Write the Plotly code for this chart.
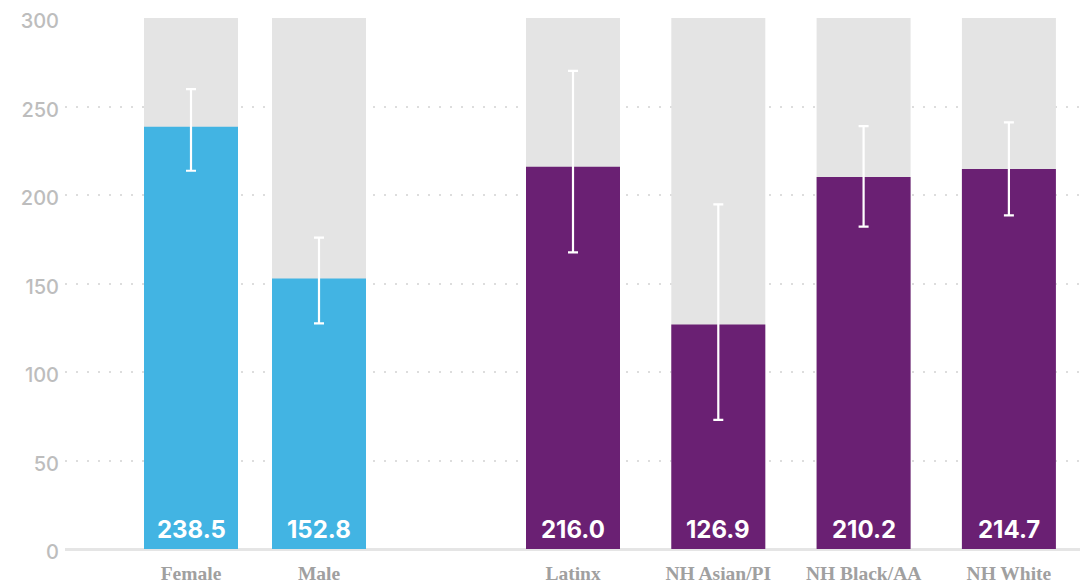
import plotly.graph_objects as go

# ---- data ----
sex_categories = ["Female", "Male"]
sex_values = [238.5, 152.8]
sex_ci_low = [213.7, 127.5]
sex_ci_high = [259.8, 175.9]

race_categories = ["Latinx", "NH Asian/PI", "NH Black/AA", "NH White"]
race_values = [216.0, 126.9, 210.2, 214.7]
race_ci_low = [167.6, 73.0, 182.1, 188.5]
race_ci_high = [270.1, 194.7, 238.9, 241.0]

y_max = 300
y_ticks = [0, 50, 100, 150, 200, 250, 300]

# ---- layout helpers (positions computed from index) ----
SEX_START, SEX_STEP = 126, 128
RACE_START, RACE_STEP = 508, 145.3
BAR_W = 94

sex_x = [SEX_START + i * SEX_STEP for i in range(len(sex_categories))]
race_x = [RACE_START + i * RACE_STEP for i in range(len(race_categories))]

BLUE = "#42b4e3"
PURPLE = "#6a2073"
GREY = "#e4e4e4"

fig = go.Figure()

all_x = sex_x + race_x
# background full-scale bars
fig.add_trace(go.Bar(
    x=all_x, y=[y_max] * len(all_x), width=BAR_W,
    marker=dict(color=GREY, line=dict(width=0)),
    hoverinfo="skip", showlegend=False,
))

def add_group(xs, vals, lo, hi, color):
    fig.add_trace(go.Bar(
        x=xs, y=vals, width=BAR_W,
        marker=dict(color=color, line=dict(width=0)),
        error_y=dict(
            type="data", symmetric=False,
            array=[h - v for h, v in zip(hi, vals)],
            arrayminus=[v - l for v, l in zip(vals, lo)],
            color="white", thickness=2.2, width=5,
        ),
        hoverinfo="skip", showlegend=False,
    ))
    for x, v in zip(xs, vals):
        fig.add_annotation(
            x=x, y=0, yanchor="bottom", xanchor="center",
            text=f"<b>{v:.1f}</b>", showarrow=False, yshift=3,
            font=dict(family="Inter, Lato, sans-serif", size=24, color="white"),
        )

add_group(sex_x, sex_values, sex_ci_low, sex_ci_high, BLUE)
add_group(race_x, race_values, race_ci_low, race_ci_high, PURPLE)

fig.update_layout(
    width=1088, height=583,
    margin=dict(l=57, r=15, t=10, b=42, autoexpand=False),
    paper_bgcolor="white", plot_bgcolor="white",
    barmode="overlay",
    xaxis=dict(
        range=[0, 1016],
        tickmode="array",
        tickvals=all_x,
        ticktext=sex_categories + race_categories,
        tickfont=dict(family="Liberation Serif, serif", size=19.5, color="#a0a0a0", weight="bold"),
        showgrid=False, zeroline=False, showline=False, ticks="",
        ticklabelstandoff=10, ticklabeloverflow="allow", automargin=False,
        fixedrange=True,
    ),
    yaxis=dict(
        range=[0, y_max],
        tickmode="array", tickvals=y_ticks,
        tickfont=dict(family="Inter, Lato, sans-serif", size=20, color="#bdbdbd", weight=500),
        showgrid=True, gridcolor="#dddddd", gridwidth=2, griddash="2px,9px",
        zeroline=True, zerolinecolor="#e5e5e5", zerolinewidth=3,
        showline=False, ticks="", ticklabelstandoff=5, ticklabelshift=3,
        ticklabeloverflow="allow",
        automargin=False,
        fixedrange=True,
    ),
)

fig.write_html("out.html")
